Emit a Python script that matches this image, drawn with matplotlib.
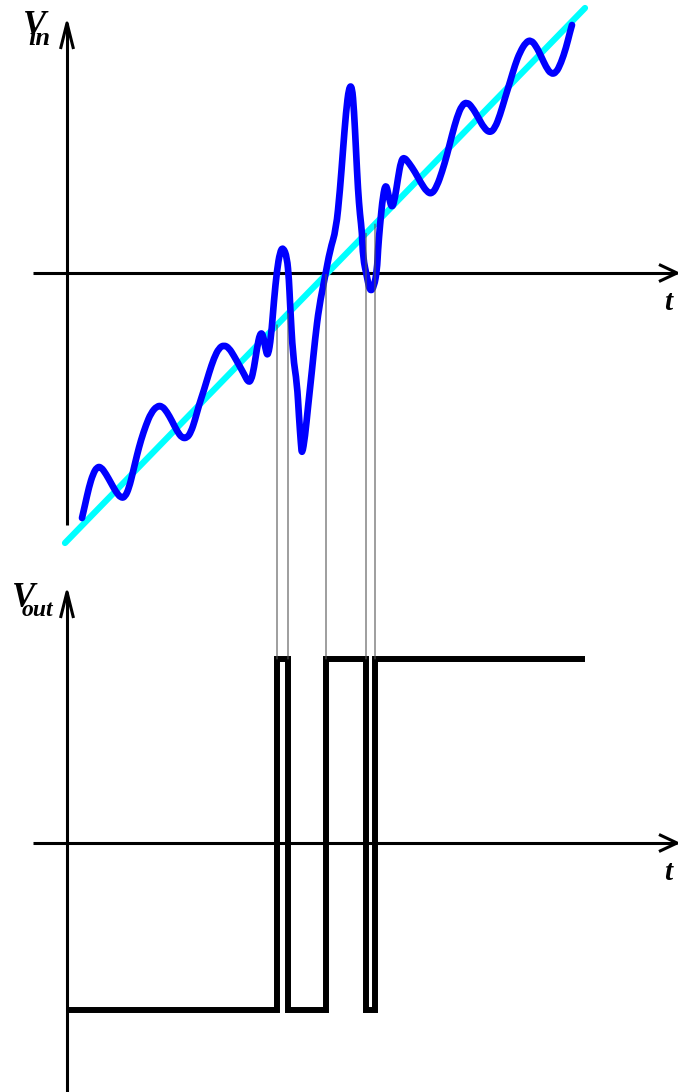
import numpy as np
import matplotlib
matplotlib.use("Agg")
import matplotlib.pyplot as plt
from matplotlib.patches import ConnectionPatch, PathPatch
from matplotlib.path import Path

# ---- data -------------------------------------------------------------
# Input signal samples: time and amplitude (rows of ten keep them aligned)
t_in = np.array([
    15, 18, 22, 26, 30, 34, 39, 44, 49, 54,
    58, 62, 66, 70, 74, 79, 84, 90, 95, 100,
    105, 110, 115, 120, 124, 128, 132, 137, 142, 147,
    152, 157, 162, 167, 172, 177, 181, 184, 187, 190,
    193, 196, 199, 201, 204, 207, 210, 213, 216, 220,
    222, 223, 226, 230, 232, 234, 235, 238, 241, 245,
    248, 252, 258, 263, 269, 273, 276, 279, 282, 285,
    287, 289, 291, 293, 295, 296, 300, 303, 307, 310,
    311, 313, 316, 319, 322, 325, 328, 331, 334, 337,
    342, 348, 354, 360, 365, 370, 375, 380, 385, 390,
    395, 400, 405, 411, 417, 423, 428, 433, 438, 443,
    448, 453, 459, 464, 469, 474, 479, 484, 489, 494,
    499, 503, 505])
v_in = np.array([
    -245, -232, -214, -201, -194, -194, -201, -210, -219, -225,
    -224, -215, -199, -182, -167, -152, -140, -133, -133, -139,
    -148, -158, -165, -165, -159, -147, -132, -117, -100, -85,
    -75, -72, -75, -83, -92, -101, -109, -108, -95, -75,
    -60, -61, -79, -83, -65, -27, 3, 21, 26, 16,
    -7, -30, -84, -110, -144, -172, -182, -164, -134, -97,
    -67, -34, -4, 23, 43, 83, 123, 161, 186, 187,
    163, 123, 83, 58, 41, 15, -4, -19, -14, 3,
    23, 48, 78, 90, 75, 64, 75, 95, 112, 116,
    110, 101, 90, 81, 79, 87, 101, 118, 138, 156,
    168, 171, 166, 156, 145, 140, 145, 158, 175, 191,
    208, 221, 231, 233, 227, 217, 206, 199, 200, 210,
    225, 241, 248])

# Reference ramp (start and end)
t_ramp = np.array([-2, 518])
v_ramp = np.array([-270, 265])

# Comparator switching instants and output levels
t_switch = np.array([210, 221, 259, 299, 308])
v_low, v_high = -167, 184
t_out_end = 518

# ---- figure -------------------------------------------------------------
W, H = 678, 1092
fig = plt.figure(figsize=(W / 100, H / 100), dpi=100)
split = 560  # pixel row dividing the two panels

ax_in = fig.add_axes([0, (H - split) / H, 1, split / H])
ax_out = fig.add_axes([0, 0, 1, (H - split) / H])

x0 = 67          # vertical axis position in pixels
y_in0, y_out0 = 273, 843
ax_in.set_xlim(-x0, W - x0)
ax_in.set_ylim(y_in0 - split, y_in0)
ax_out.set_xlim(-x0, W - x0)
ax_out.set_ylim(y_out0 - H, y_out0 - split)
for ax in (ax_in, ax_out):
    ax.set_axis_off()

axis_kw = dict(color="black", lw=2.2, solid_capstyle="butt", clip_on=False)
label_font = dict(family="Liberation Serif", weight="bold", style="italic",
                  color="black")


def draw_axes(ax, v_bottom, v_top, ylabel, sub, lab_xy, sub_xy, t_xy,
              sub_size):
    t_tip = W - x0 - 1
    ax.plot([0, 0], [v_bottom, v_top], **axis_kw)
    ax.plot([-6.5, 0, 6.5], [v_top - 26, v_top, v_top - 26], **axis_kw)
    ax.plot([-34, t_tip], [0, 0], **axis_kw)
    ax.plot([t_tip - 18, t_tip, t_tip - 18], [8.5, 0, -8.5], **axis_kw)
    ax.text(*lab_xy, ylabel, fontsize=25, ha="left", va="baseline", **label_font)
    ax.text(*sub_xy, sub, fontsize=sub_size, ha="left", va="baseline",
            **label_font)
    ax.text(*t_xy, "t", fontsize=21, ha="center", va="baseline", **label_font)


draw_axes(ax_in, -252, 250, "V", "in", (-44, 238), (-39, 228), (601, -37), 19)
draw_axes(ax_out, -260, 251, "V", "out", (-55, 236), (-45, 227), (601, -37), 17)

# Ramp
ax_in.plot(t_ramp, v_ramp, color="#00ffff", lw=4.5, solid_capstyle="round",
           zorder=2)

# Input signal as a smooth quadratic-Bezier path through the samples
pts = np.column_stack([t_in, v_in]).astype(float)
mids = (pts[:-1] + pts[1:]) / 2
verts = [pts[0], mids[0]]
codes = [Path.MOVETO, Path.LINETO]
for i in range(1, len(pts) - 1):
    verts += [pts[i], mids[i]]
    codes += [Path.CURVE3, Path.CURVE3]
verts.append(pts[-1])
codes.append(Path.LINETO)
ax_in.add_patch(PathPatch(Path(verts, codes), facecolor="none",
                          edgecolor="#0000ff", lw=4.8, capstyle="round",
                          joinstyle="round", zorder=3))

# Comparator output
t_steps = np.concatenate([[0], t_switch, [t_out_end]])
levels = [v_low if i % 2 == 0 else v_high for i in range(len(t_switch) + 1)]
levels.append(levels[-1])
ax_out.step(t_steps, levels, where="post", color="black", lw=4.3,
            solid_joinstyle="miter", solid_capstyle="butt", zorder=3)

# Thin guides from each crossing down to the output transition
v_cross = np.interp(t_switch, t_ramp, v_ramp)
for ts, vc in zip(t_switch, v_cross):
    con = ConnectionPatch(xyA=(ts, vc), coordsA=ax_in.transData,
                          xyB=(ts, v_high), coordsB=ax_out.transData,
                          color="#555555", lw=0.8, zorder=1)
    fig.add_artist(con)

fig.savefig("out.png", dpi=100, facecolor="white")
